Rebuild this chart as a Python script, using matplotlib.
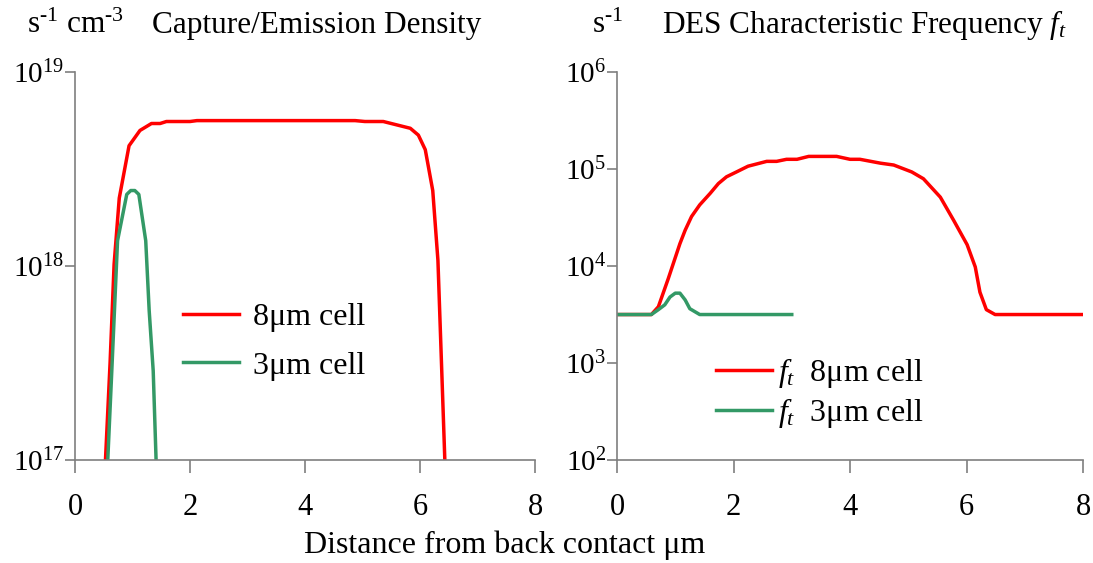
import matplotlib
matplotlib.use("Agg")
import matplotlib.pyplot as plt

plt.rcParams['font.family'] = ['Liberation Serif', 'DejaVu Serif']
plt.rcParams['mathtext.fontset'] = 'custom'
plt.rcParams['mathtext.rm'] = 'Liberation Serif'
plt.rcParams['mathtext.it'] = 'Liberation Serif:italic'

# Capture/Emission density (s^-1 cm^-3)
dens_x_8um = [0.45, 0.53, 0.61, 0.68, 0.77, 0.94, 1.13, 1.33, 1.48, 1.59, 2.0, 2.12,
              4.87, 5.04, 5.36, 5.83, 5.97, 6.09, 6.22, 6.31, 6.43, 6.5]
dens_y_8um = [3e16, 1e17, 3.16e17, 1.02e18, 2.24e18, 4.17e18, 5.0e18, 5.43e18, 5.43e18,
              5.56e18, 5.56e18, 5.62e18, 5.62e18, 5.56e18, 5.56e18, 5.13e18, 4.73e18,
              3.98e18, 2.45e18, 1.07e18, 1e17, 2.5e16]
dens_x_3um = [0.5, 0.57, 0.64, 0.74, 0.90, 0.97, 1.04, 1.11, 1.23, 1.29, 1.36, 1.41, 1.45]
dens_y_3um = [3.5e16, 1e17, 2.88e17, 1.35e18, 2.34e18, 2.45e18, 2.45e18, 2.34e18,
              1.35e18, 5.89e17, 2.88e17, 1e17, 4e16]

# DES characteristic frequency f_t (s^-1)
freq_x_8um = [0, 0.59, 0.71, 0.88, 1.08, 1.17, 1.28, 1.42, 1.60, 1.74, 1.88, 2.05, 2.25,
              2.57, 2.74, 2.91, 3.09, 3.29, 3.77, 4.0, 4.17, 4.52, 4.75, 5.06, 5.26,
              5.55, 5.78, 6.01, 6.15, 6.23, 6.34, 6.49, 8.0]
freq_y_8um = [3.16e3, 3.16e3, 3.8e3, 7.41e3, 1.70e4, 2.34e4, 3.24e4, 4.27e4, 5.62e4,
              7.08e4, 8.32e4, 9.33e4, 1.07e5, 1.20e5, 1.20e5, 1.26e5, 1.26e5, 1.35e5,
              1.35e5, 1.26e5, 1.26e5, 1.15e5, 1.10e5, 9.33e4, 7.94e4, 5.13e4, 2.95e4,
              1.66e4, 9.77e3, 5.37e3, 3.55e3, 3.16e3, 3.16e3]
freq_x_3um = [0, 0.59, 0.71, 0.82, 0.91, 1.0, 1.08, 1.17, 1.25, 1.42, 3.0]
freq_y_3um = [3.16e3, 3.16e3, 3.55e3, 3.98e3, 4.79e3, 5.25e3, 5.25e3, 4.47e3, 3.63e3,
              3.16e3, 3.16e3]

x_ticks = [0, 2, 4, 6, 8]
dens_ticks = [1e17, 1e18, 1e19]
dens_tick_labels = [r'$10^{17}$', r'$10^{18}$', r'$10^{19}$']
freq_ticks = [1e2, 1e3, 1e4, 1e5, 1e6]
freq_tick_labels = [r'$10^{2}$', r'$10^{3}$', r'$10^{4}$', r'$10^{5}$', r'$10^{6}$']

red = '#ff0000'
green = '#339966'
gray = '#7f7f7f'
fs = 21       # tick labels
fs_big = 23   # legends, axis label
fs_title = 22.5

fig = plt.figure(figsize=(10.93, 5.63), dpi=100)
ax1 = fig.add_axes([0.0686, 0.183, 0.421, 0.689])
ax2 = fig.add_axes([0.5645, 0.183, 0.4264, 0.689])


def style_axis(ax, yticks, ylabels):
    ax.set_yscale('log')
    ax.set_xlim(0, 8)
    ax.set_xticks(x_ticks)
    ax.set_xticklabels([str(t) for t in x_ticks])
    ax.set_yticks(yticks)
    ax.set_yticklabels(ylabels)
    ax.minorticks_off()
    for side in ['top', 'right']:
        ax.spines[side].set_visible(False)
    for side in ['left', 'bottom']:
        ax.spines[side].set_color(gray)
        ax.spines[side].set_linewidth(1.2)
    ax.tick_params(axis='x', direction='out', length=9, width=1.2, color=gray,
                   pad=15, labelsize=fs + 1)
    ax.tick_params(axis='y', direction='out', length=7, width=1.2, color=gray,
                   pad=1, labelsize=fs)


style_axis(ax1, dens_ticks, dens_tick_labels)
ax1.set_ylim(1e17, 1e19)
ax1.plot(dens_x_8um, dens_y_8um, color=red, lw=2.5, label='8μm cell')
ax1.plot(dens_x_3um, dens_y_3um, color=green, lw=2.5, label='3μm cell')
ax1.legend(loc='center left', bbox_to_anchor=(0.235, 0.305), frameon=False,
           fontsize=fs_big, handlelength=1.75, handletextpad=0.45, labelspacing=0.6,
           borderpad=0, borderaxespad=0)

style_axis(ax2, freq_ticks, freq_tick_labels)
ax2.set_ylim(1e2, 1e6)
ax2.plot(freq_x_8um, freq_y_8um, color=red, lw=2.5, label=r'$f_t$  8μm cell')
ax2.plot(freq_x_3um, freq_y_3um, color=green, lw=2.5, label=r'$f_t$  3μm cell')
ax2.legend(loc='center left', bbox_to_anchor=(0.212, 0.172), frameon=False,
           fontsize=fs_big, handlelength=1.75, handletextpad=0.2, labelspacing=0.2,
           borderpad=0, borderaxespad=0)

# titles and units
fig.text(0.025, 0.955, r's$^{\text{-1}}$ cm$^{\text{-3}}$', fontsize=fs_title,
         va='center', ha='left')
fig.text(0.139, 0.955, 'Capture/Emission Density', fontsize=fs_title,
         va='center', ha='left')
fig.text(0.542, 0.955, r's$^{\text{-1}}$', fontsize=fs_title, va='center', ha='left')
fig.text(0.606, 0.955, r'DES Characteristic Frequency $f_t$', fontsize=fs_title,
         va='center', ha='left')
fig.text(0.462, 0.032, 'Distance from back contact μm', fontsize=fs_big,
         va='center', ha='center')

fig.savefig('out.png', dpi=100)
